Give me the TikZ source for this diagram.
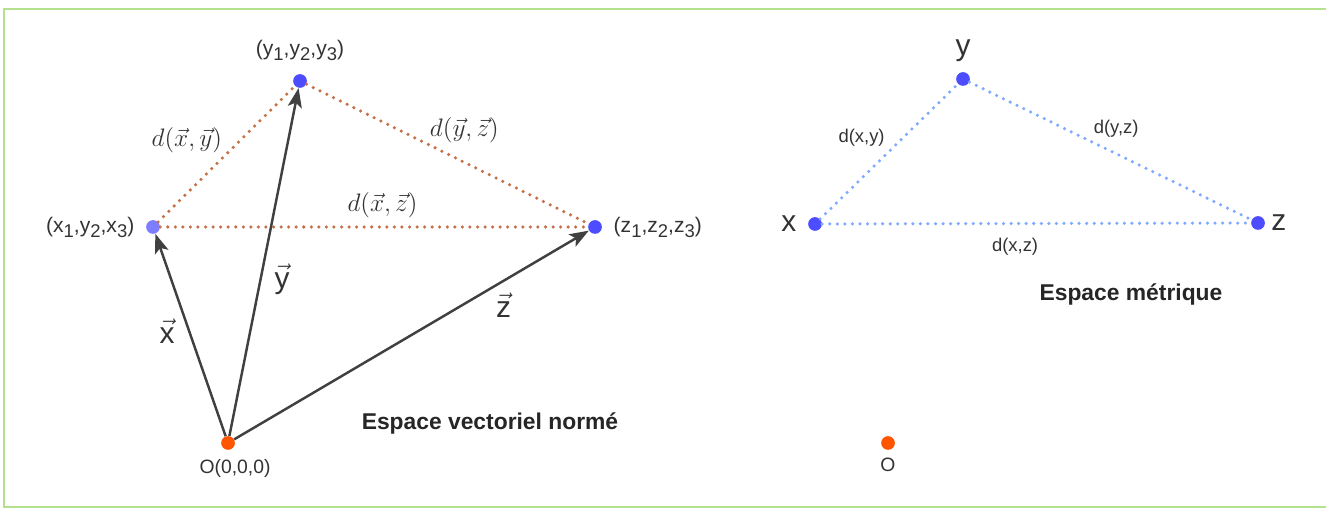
\documentclass[tikz,border=0pt]{standalone}
\usepackage{amsmath}
\usepackage{fontspec}
\setmainfont{Liberation Sans}
\usetikzlibrary{positioning, arrows.meta}
\definecolor{dotblue}{RGB}{77,77,255}
\definecolor{dotpale}{RGB}{125,125,255}
\definecolor{origin}{RGB}{255,85,0}
\definecolor{distbrown}{RGB}{196,112,72}
\definecolor{distblue}{RGB}{128,170,255}
\definecolor{vecgray}{RGB}{64,64,64}
\definecolor{labgray}{RGB}{51,51,51}
\definecolor{framegreen}{RGB}{180,225,140}
\newcommand{\lowsub}[1]{\raisebox{-0.45ex}{\fontsize{10.5}{12}\selectfont #1}}
\tikzset{
  pt/.style={circle, fill=dotblue, inner sep=0pt, minimum size=7.8pt},
  coordlab/.style={text=labgray, font=\fontsize{12}{14}\selectfont},
  veclab/.style={text=labgray, font=\fontsize{17}{20}\selectfont},
  mathlab/.style={text=black!80, font=\fontsize{15}{17}\selectfont},
  distlab/.style={text=labgray, font=\fontsize{10.5}{12}\selectfont},
  title/.style={text=black!85, font=\fontsize{13}{15}\selectfont\bfseries},
  vec/.style={draw=vecgray, line width=1.4pt, -{Stealth[length=11pt, width=8pt, inset=2.5pt]}},
  distvec/.style={draw=distbrown, line width=2pt, line cap=round, dash pattern=on 0pt off 4.3pt},
  distmet/.style={distvec, draw=distblue},
}

\begin{document}
\begin{tikzpicture}[x=0.02cm, y=-0.02cm]
  \useasboundingbox (0,0) rectangle (1326,509);
  \draw[framegreen, line width=0.9pt] (1326,9) -- (4,9) -- (4,507) -- (1326,507);

  % espace vectoriel norme
  \node[pt, fill=dotpale] (X) at (153,227) {};
  \node[pt] (Y) at (300,81) {};
  \node[pt] (Z) at (595,227) {};
  \node[pt, fill=origin] (O) at (228,443) {};
  \node[coordlab, left=3pt of X] (Xlab) {(x\lowsub{1},y\lowsub{2},x\lowsub{3})};
  \node[coordlab, above=4pt of Y] (Ylab) {(y\lowsub{1},y\lowsub{2},y\lowsub{3})};
  \node[coordlab, right=3pt of Z] (Zlab) {(z\lowsub{1},z\lowsub{2},z\lowsub{3})};
  \node[coordlab, below=2pt of O, xshift=4pt, font=\fontsize{11}{13}\selectfont] (Olab) {O(0,0,0)};

  \path (X) edge[distvec] node[mathlab, pos=.6, left=6pt] {$d(\vec{x},\vec{y})$} (Y)
        (Y) edge[distvec] node[mathlab, pos=.56, above=7pt] {$d(\vec{y},\vec{z})$} (Z)
        (X) edge[distvec] node[mathlab, pos=.52, above=1pt] {$d(\vec{x},\vec{z})$} (Z);
  \path (O) edge[vec] node[veclab, pos=.5, left=5pt, yshift=2pt] {$\vec{\text{x}}$} (X)
        (O) edge[vec] node[veclab, pos=.45, right=4pt] {$\vec{\text{y}}$} (Y)
        (O) edge[vec] node[veclab, pos=.76, below=3pt] {$\vec{\text{z}}$} (Z);
  \node[title] (vtitle) at (490,423) {Espace vectoriel normé};

  % espace metrique
  \node[pt] (mX) at (815,224) {};
  \node[pt] (mY) at (963,79) {};
  \node[pt] (mZ) at (1258,223) {};
  \node[pt, fill=origin] (mO) at (888,443) {};
  \node[veclab, left=3pt of mX] (mXlab) {x};
  \node[veclab, above=2pt of mY] (mYlab) {y};
  \node[veclab, right=0pt of mZ] (mZlab) {z};
  \node[coordlab, below=1pt of mO, font=\fontsize{11}{13}\selectfont] (mOlab) {O};

  \path (mX) edge[distmet] node[distlab, pos=.6, left=6pt] {d(x,y)} (mY)
        (mY) edge[distmet] node[distlab, pos=.52, above=5pt] {d(y,z)} (mZ)
        (mX) edge[distmet] node[distlab, pos=.45, below=4pt] {d(x,z)} (mZ);
  \node[title] (mtitle) at (1131,294) {Espace métrique};
\end{tikzpicture}
\end{document}
